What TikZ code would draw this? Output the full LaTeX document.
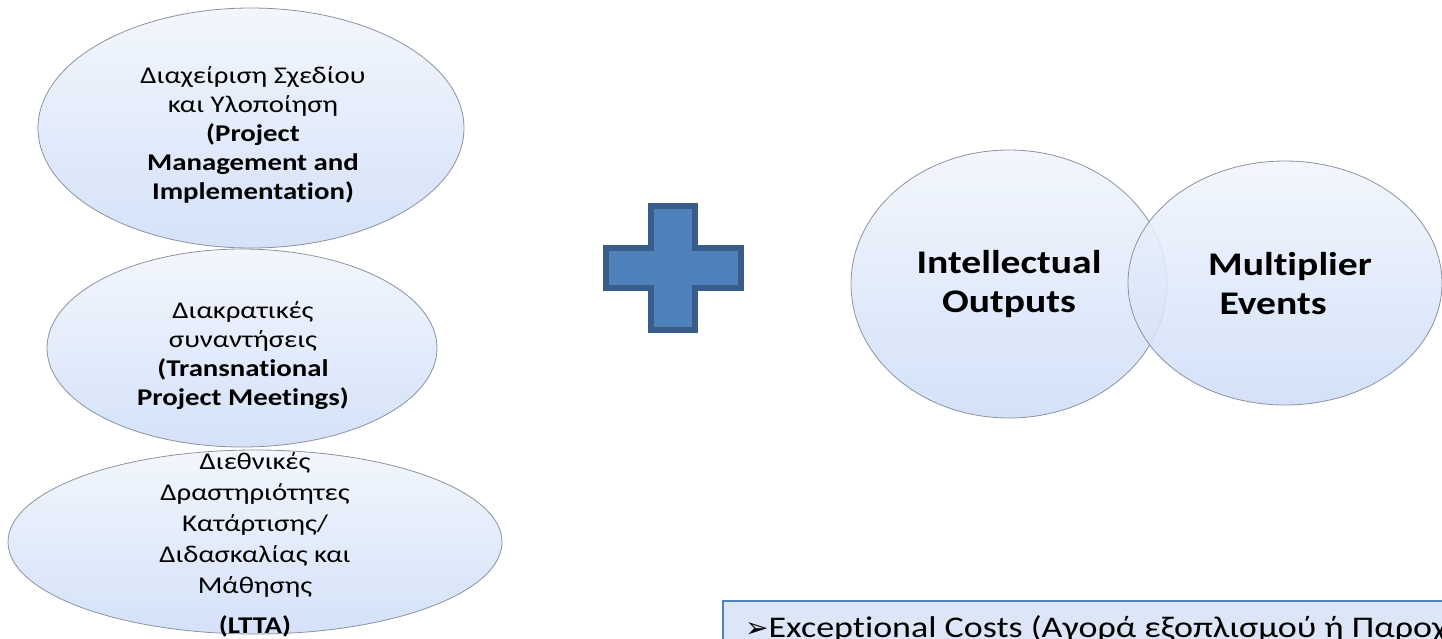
\documentclass[tikz,border=0pt]{standalone}
\usepackage{fontspec}
\setmainfont{Carlito}[FakeStretch=1.2,Ligatures=CommonOff]
\newfontfamily\symfont{DejaVu Sans}
\usetikzlibrary{calc}
\definecolor{BubbleTop}{RGB}{241,245,253}
\definecolor{BubbleBot}{RGB}{206,221,247}
\definecolor{BubbleEdge}{RGB}{140,146,160}
\definecolor{PlusClr}{RGB}{79,129,189}
\definecolor{PlusEdge}{RGB}{56,93,138}
\definecolor{BoxFill}{RGB}{220,230,247}

\begin{document}
\begin{tikzpicture}[x=1pt,y=-1pt,
  bubble/.style={draw=BubbleEdge,line width=0.8pt,top color=BubbleTop,bottom color=BubbleBot,fill opacity=0.88},
  ovaltext/.style={align=center,inner sep=0pt,font=\fontsize{24}{29}\selectfont},
  venntext/.style={align=center,inner sep=0pt,font=\fontsize{33}{39}\selectfont\bfseries}]
\clip (0,0) rectangle (1442,638);

\coordinate (Mgmt) at (251,128);
\coordinate (Meet) at (242,348);
\coordinate (Ltta) at (255,542);
\coordinate (Outs) at (1009,284);
\coordinate (Mult) at (1285,283);

\path[bubble] (Mgmt) ellipse [x radius=213,y radius=120];
\path[bubble] (Meet) ellipse [x radius=195,y radius=99];
\path[bubble] (Ltta) ellipse [x radius=247,y radius=92];

\node[ovaltext] (mgmttext) at (253,135) {Διαχείριση Σχεδίου\\και Υλοποίηση\\\textbf{(Project}\\\textbf{Management and}\\\textbf{Implementation)}};
\node[ovaltext] (meettext) at (243,356) {Διακρατικές\\συναντήσεις\\\textbf{(Transnational}\\\textbf{Project Meetings)}};
\node[ovaltext,font=\fontsize{24}{31}\selectfont] (lttatext) at (255,545) {Διεθνικές\\Δραστηριότητες\\Κατάρτισης/\\Διδασκαλίας και\\Μάθησης\\[9pt]\textbf{(LTTA)}};

\draw[line width=6pt,draw=PlusEdge,fill=PlusClr,line join=miter]
  (651,206) -- (695,206) -- (695,248) -- (741,248) -- (741,288) -- (695,288)
  -- (695,330) -- (651,330) -- (651,288) -- (606,288) -- (606,248) -- (651,248) -- cycle;

\path[bubble] (Outs) ellipse [x radius=158,y radius=134];
\path[bubble] (Mult) ellipse [x radius=157,y radius=122];

\node[venntext] (outstext) at (1009,284) {Intellectual\\Outputs};
\node[venntext] (multtext) at (1290,284) {Multiplier\\Events\hspace*{34pt}};

\draw[draw=PlusClr,line width=1.2pt,fill=BoxFill] (723,601) rectangle (1460,660);
\node[anchor=base west,inner sep=0pt,font=\fontsize{30}{36}\selectfont] (coststext) at (745,637)
  {{\symfont\fontsize{28}{30}\selectfont ➢}Exceptional Costs (Αγορά εξοπλισμού ή Παροχ};
\end{tikzpicture}
\end{document}
